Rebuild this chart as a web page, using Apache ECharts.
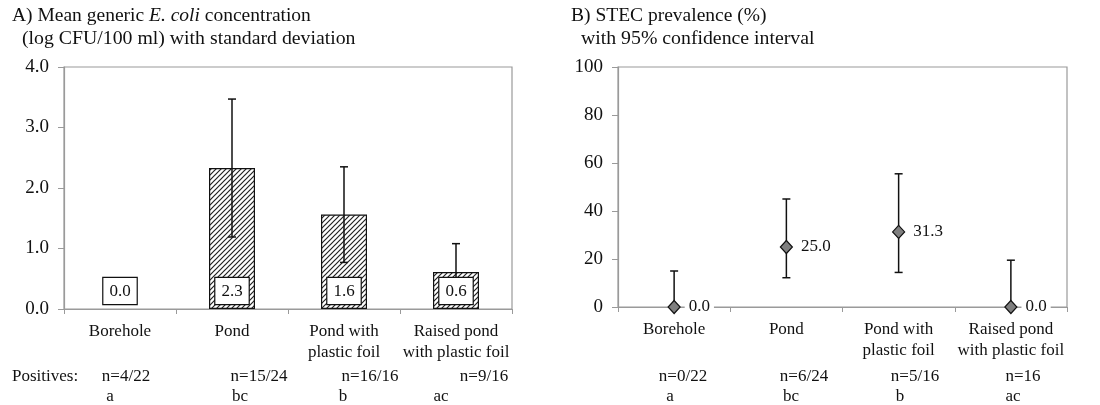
<!DOCTYPE html>
<html>
<head>
<meta charset="utf-8">
<script src="https://cdn.jsdelivr.net/npm/echarts@6.0.0/dist/echarts.min.js"></script>
<style>
  html, body { margin: 0; padding: 0; background: #fff; }
  #chart { width: 1100px; height: 405px; }
</style>
</head>
<body>
<div id="chart"></div>
<script>
  // data
  const categories = ['Borehole', 'Pond', 'Pond with\nplastic foil', 'Raised pond\nwith plastic foil'];
  // A) mean log CFU/100 ml and standard deviation
  const ecoliMean = [0.0, 2.33, 1.56, 0.61];
  const ecoliSd = [0, 1.14, 0.79, 0.47];
  const ecoliPositives = ['n=4/22', 'n=15/24', 'n=16/16', 'n=9/16'];
  const ecoliLetters = ['a', 'bc', 'b', 'ac'];
  // B) STEC prevalence (%) with 95% CI
  const stecPrev = [0.0, 25.0, 31.3, 0.0];
  const stecLow = [0, 12.2, 14.4, 0];
  const stecHigh = [15.0, 45.0, 55.5, 19.5];
  const stecPositives = ['n=0/22', 'n=6/24', 'n=5/16', 'n=16'];
  const stecLetters = ['a', 'bc', 'b', 'ac'];

  const FONT = 'Liberation Serif';
  const AXIS_COLOR = '#9a9a9a';

  // hatch pattern for the bars
  function hatch() {
    const c = document.createElement('canvas');
    c.width = 5; c.height = 5;
    const ctx = c.getContext('2d');
    ctx.fillStyle = '#fff';
    ctx.fillRect(0, 0, 5, 5);
    ctx.strokeStyle = '#222';
    ctx.lineWidth = 1.2;
    ctx.beginPath();
    ctx.moveTo(0, 5); ctx.lineTo(5, 0);
    ctx.moveTo(-1, 1); ctx.lineTo(1, -1);
    ctx.moveTo(4, 6); ctx.lineTo(6, 4);
    ctx.stroke();
    return c;
  }

  // error bars: [catIndex, low, high]
  function renderError(params, api) {
    const idx = api.value(0);
    const lo = api.value(1), hi = api.value(2);
    if (hi === lo) return null;
    const top = api.coord([idx, hi]);
    const bot = api.coord([idx, lo]);
    const hw = 4;
    const style = { stroke: '#111', lineWidth: 1.5 };
    const children = [
      { type: 'line', shape: { x1: top[0], y1: top[1], x2: bot[0], y2: bot[1] }, style: style },
      { type: 'line', shape: { x1: top[0] - hw, y1: top[1], x2: top[0] + hw, y2: top[1] }, style: style }
    ];
    if (lo > 0) {
      children.push({ type: 'line', shape: { x1: bot[0] - hw, y1: bot[1], x2: bot[0] + hw, y2: bot[1] }, style: style });
    }
    return { type: 'group', children: children };
  }

  const ecoliErr = ecoliMean.map((m, i) => [i, Math.max(0, m - ecoliSd[i]), m + ecoliSd[i]]);
  const stecErr = stecPrev.map((m, i) => [i, stecLow[i], stecHigh[i]]);

  // layout of the texts under the axes
  const leftNX = [126, 259, 370, 484];
  const leftLetterX = [110, 240, 343, 441];
  const rightNX = [683, 804, 915, 1023];
  const rightLetterX = [670, 791, 900, 1013];

  function txt(str, x, y, align, size) {
    return {
      type: 'text', x: x, y: y,
      style: { text: str, font: (size || 17) + 'px "' + FONT + '"', fill: '#111', align: align || 'center', verticalAlign: 'middle' }
    };
  }

  const graphics = [
    {
      type: 'text', x: 12, y: 16,
      style: {
        text: '{n|A) Mean generic }{i|E. coli}{n| concentration}',
        verticalAlign: 'middle',
        rich: {
          n: { fontFamily: FONT, fontSize: 19.5, fill: '#111' },
          i: { fontFamily: FONT, fontSize: 19.5, fontStyle: 'italic', fill: '#111' }
        }
      }
    },
    txt('(log CFU/100 ml) with standard deviation', 22, 39, 'left', 19.8),
    txt('B) STEC prevalence (%)', 571, 16, 'left', 19.5),
    txt('with 95% confidence interval', 581, 39, 'left', 19.8),
    txt('Positives:', 12, 377, 'left')
  ];
  ecoliPositives.forEach((s, i) => graphics.push(txt(s, leftNX[i], 377)));
  ecoliLetters.forEach((s, i) => graphics.push(txt(s, leftLetterX[i], 397)));
  stecPositives.forEach((s, i) => graphics.push(txt(s, rightNX[i], 377)));
  stecLetters.forEach((s, i) => graphics.push(txt(s, rightLetterX[i], 397)));

  function catAxis(gridIndex) {
    return {
      type: 'category', gridIndex: gridIndex, data: categories,
      boundaryGap: true,
      axisLine: { lineStyle: { color: AXIS_COLOR, width: 1.2 } },
      axisTick: { show: true, length: 5, lineStyle: { color: AXIS_COLOR } },
      axisLabel: { color: '#111', fontFamily: FONT, fontSize: 17, lineHeight: 21, margin: 12, interval: 0 },
      splitLine: { show: false }
    };
  }
  function valAxis(gridIndex, max, interval, fmt) {
    return {
      type: 'value', gridIndex: gridIndex, min: 0, max: max, interval: interval,
      axisLine: { show: true, lineStyle: { color: AXIS_COLOR, width: 1.2 } },
      axisTick: { show: true, length: 6, lineStyle: { color: AXIS_COLOR } },
      axisLabel: { color: '#111', fontFamily: FONT, fontSize: 19, margin: 15, formatter: fmt },
      splitLine: { show: false }
    };
  }

  const option = {
    animation: false,
    backgroundColor: '#fff',
    textStyle: { fontFamily: FONT },
    grid: [
      { left: 64, top: 67, width: 448, height: 242, show: true, borderColor: AXIS_COLOR, borderWidth: 1.2 },
      { left: 618, top: 67, width: 449, height: 240, show: true, borderColor: AXIS_COLOR, borderWidth: 1.2 }
    ],
    xAxis: [catAxis(0), catAxis(1)],
    yAxis: [
      valAxis(0, 4, 1, v => v.toFixed(1)),
      valAxis(1, 100, 20, v => String(v))
    ],
    graphic: graphics,
    series: [
      {
        type: 'bar', xAxisIndex: 0, yAxisIndex: 0, z: 2,
        barWidth: 46,
        data: ecoliMean.map(v => ({ value: v, itemStyle: v === 0 ? { borderWidth: 0 } : undefined })),
        itemStyle: { color: { image: hatch(), repeat: 'repeat' }, borderColor: '#111', borderWidth: 1.2 }
      },
      {
        type: 'custom', xAxisIndex: 0, yAxisIndex: 0, z: 3,
        renderItem: renderError, data: ecoliErr
      },
      {
        // transparent copy of the bars that carries the value boxes above the error bars
        type: 'bar', xAxisIndex: 0, yAxisIndex: 0, z: 4,
        barWidth: 46, barGap: '-100%',
        data: ecoliMean,
        itemStyle: { color: 'rgba(0,0,0,0)', borderWidth: 0 },
        label: {
          show: true, position: 'insideBottom', distance: 5,
          formatter: p => p.value.toFixed(1),
          color: '#111', fontFamily: FONT, fontSize: 17,
          backgroundColor: '#fff', borderColor: '#111', borderWidth: 1.2,
          padding: [5, 6, 4, 6]
        }
      },
      {
        type: 'custom', xAxisIndex: 1, yAxisIndex: 1, z: 2,
        renderItem: renderError, data: stecErr
      },
      {
        type: 'scatter', xAxisIndex: 1, yAxisIndex: 1, z: 3,
        symbol: 'diamond', symbolSize: [12, 13],
        data: stecPrev,
        itemStyle: { color: '#7f7f7f', borderColor: '#111', borderWidth: 1.2, opacity: 1 },
        label: {
          show: true, position: 'right', distance: 4,
          formatter: p => p.value.toFixed(1),
          color: '#111', fontFamily: FONT, fontSize: 17,
          backgroundColor: '#fff', padding: [1, 4]
        }
      }
    ]
  };

  const chartObj = echarts.init(document.getElementById('chart'));
  chartObj.setOption(option);
</script>
</body>
</html>
